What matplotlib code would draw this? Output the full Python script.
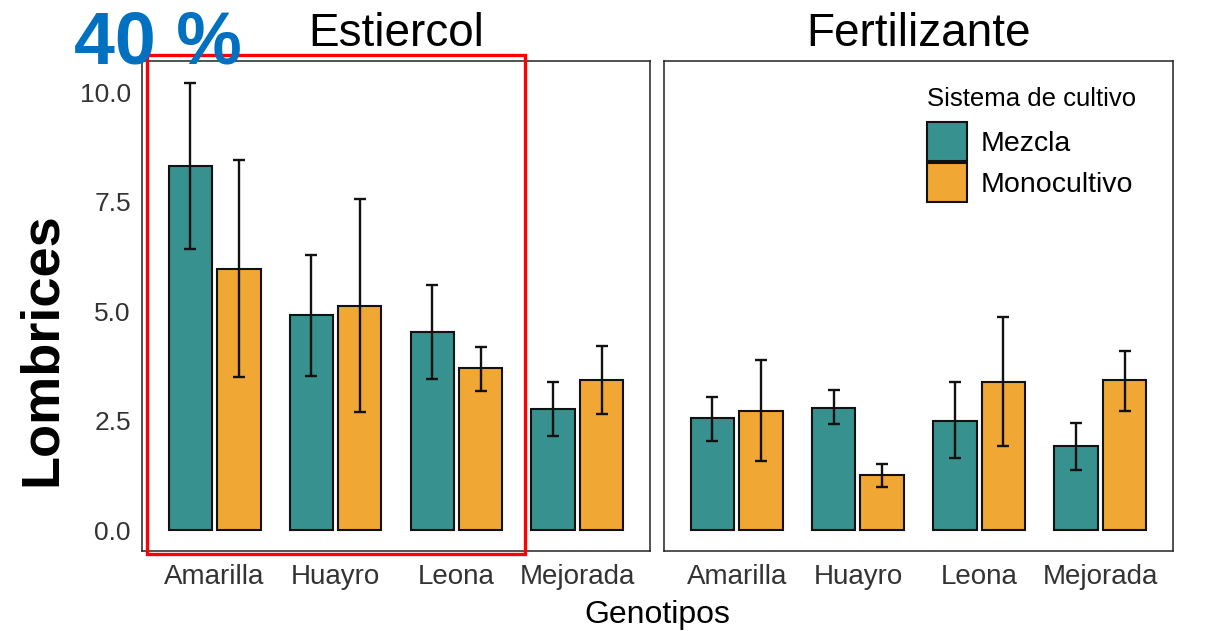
import numpy as np
import matplotlib
matplotlib.use("Agg")
import matplotlib.pyplot as plt
from matplotlib.patches import Patch, Rectangle

plt.rcParams["font.family"] = ["Liberation Sans", "DejaVu Sans"]

# mean earthworm counts and error bar limits per panel
genotipos = ["Amarilla", "Huayro", "Leona", "Mejorada"]
sistemas = ["Mezcla", "Monocultivo"]
paneles = ["Estiercol", "Fertilizante"]

estiercol_mezcla = [8.31, 4.91, 4.52, 2.76]
estiercol_mezcla_lo = [6.42, 3.52, 3.45, 2.15]
estiercol_mezcla_hi = [10.21, 6.28, 5.59, 3.38]
estiercol_mono = [5.97, 5.12, 3.70, 3.42]
estiercol_mono_lo = [3.49, 2.69, 3.17, 2.65]
estiercol_mono_hi = [8.45, 7.57, 4.19, 4.20]

fert_mezcla = [2.57, 2.80, 2.50, 1.93]
fert_mezcla_lo = [2.04, 2.42, 1.65, 1.37]
fert_mezcla_hi = [3.05, 3.19, 3.39, 2.44]
fert_mono = [2.72, 1.26, 3.39, 3.42]
fert_mono_lo = [1.58, 0.99, 1.93, 2.72]
fert_mono_hi = [3.88, 1.50, 4.87, 4.10]

y_ticks = [0.0, 2.5, 5.0, 7.5, 10.0]

teal = "#37918e"
orange = "#f0a733"

W, H = 1211, 631
fig = plt.figure(figsize=(W / 100, H / 100), dpi=100)


def fx(px):
    return px / W


def fy(py):
    return 1 - py / H


ax1 = fig.add_axes([fx(142), fy(551), fx(650) - fx(142), fy(61) - fy(551)])
ax2 = fig.add_axes([fx(664), fy(551), fx(1173) - fx(664), fy(61) - fy(551)])

datos = [
    (ax1, [(estiercol_mezcla, estiercol_mezcla_lo, estiercol_mezcla_hi),
           (estiercol_mono, estiercol_mono_lo, estiercol_mono_hi)]),
    (ax2, [(fert_mezcla, fert_mezcla_lo, fert_mezcla_hi),
           (fert_mono, fert_mono_lo, fert_mono_hi)]),
]

x = np.arange(len(genotipos))
for ax, series in datos:
    for (mean, lo, hi), off, col in zip(series, [-0.2, 0.2], [teal, orange]):
        mean = np.array(mean)
        yerr = [mean - np.array(lo), np.array(hi) - mean]
        ax.bar(x + off, mean, width=0.36, color=col, edgecolor="#111111",
               linewidth=1.5, zorder=2)
        ax.errorbar(x + off, mean, yerr=yerr, fmt="none", ecolor="#111111",
                    elinewidth=1.7, capsize=4.5, capthick=1.7, zorder=3)
    ax.set_xlim(-0.6, 3.6)
    ax.set_ylim(-0.48, 10.72)
    ax.set_xticks(x)
    ax.set_xticklabels(genotipos, fontsize=20, color="#333333")
    ax.set_yticks(y_ticks)
    ax.tick_params(length=0, pad=8)
    ax.tick_params(axis="x", pad=9)
    for s in ax.spines.values():
        s.set_color("#222222")
        s.set_linewidth(1.1)

ax1.set_yticklabels([f"{v:.1f}" for v in y_ticks], fontsize=19, color="#333333")
ax2.set_yticklabels([])

# facet strip titles
fig.text(fx(396), fy(46.5), paneles[0], fontsize=33, ha="center", va="baseline")
fig.text(fx(918), fy(46.5), paneles[1], fontsize=33, ha="center", va="baseline")

fig.text(fx(657), fy(623), "Genotipos", fontsize=23, ha="center", va="baseline")
fig.text(fx(42), fy(349), "Lombrices", fontsize=39, fontweight="bold",
         rotation=90, ha="center", va="center")

handles = [Patch(facecolor=teal, edgecolor="#111111", linewidth=1.5),
           Patch(facecolor=orange, edgecolor="#111111", linewidth=1.5)]
leg = ax2.legend(handles, sistemas, title="Sistema de cultivo", fontsize=20.5,
                 title_fontsize=18.5, loc="upper left",
                 bbox_to_anchor=(fx(927), fy(87)), bbox_transform=fig.transFigure,
                 frameon=False, borderpad=0, borderaxespad=0,
                 handlelength=1.4, handleheight=1.7, handletextpad=0.5,
                 labelspacing=0.1, alignment="left")
leg._legend_box.sep = 8

# highlight box and percentage annotation
fig.add_artist(Rectangle((fx(147), fy(554)), fx(525) - fx(147), fy(55) - fy(554),
                         transform=fig.transFigure, fill=False,
                         edgecolor="#ff0000", linewidth=2.4, zorder=10))
fig.text(fx(74), fy(63), "40 %", fontsize=53, fontweight="bold",
         color="#0070c0", ha="left", va="baseline", zorder=11)

fig.savefig("out.png", dpi=100)
